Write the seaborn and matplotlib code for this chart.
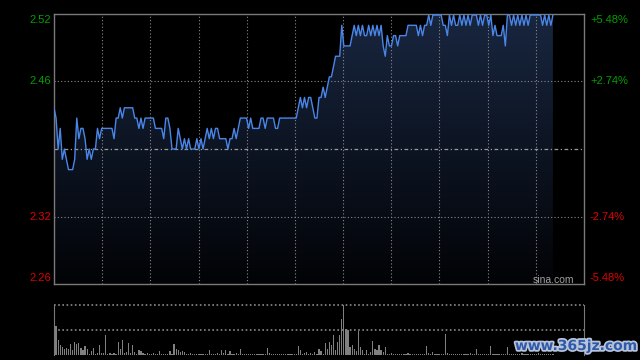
import numpy as np
import pandas as pd
import seaborn as sns
import matplotlib
matplotlib.use("Agg")
import matplotlib.pyplot as plt
from matplotlib.colors import LinearSegmentedColormap
import matplotlib.patheffects as pe

# precio por minuto (lectura del grafico)
precio = [
    2.43, 2.42, 2.39, 2.41, 2.38, 2.39, 2.38, 2.37, 2.37, 2.37,
    2.38, 2.42, 2.40, 2.41, 2.41, 2.40, 2.38, 2.39, 2.38, 2.39,
    2.39, 2.41, 2.40, 2.41, 2.41, 2.41, 2.41, 2.41, 2.41, 2.40,
    2.42, 2.42, 2.43, 2.42, 2.43, 2.43, 2.43, 2.43, 2.43, 2.42,
    2.42, 2.41, 2.42, 2.41, 2.42, 2.42, 2.42, 2.42, 2.42, 2.41,
    2.41, 2.41, 2.41, 2.40, 2.42, 2.42, 2.41, 2.39, 2.39, 2.39,
    2.41, 2.40, 2.39, 2.40, 2.39, 2.40, 2.39, 2.39, 2.39, 2.40,
    2.39, 2.40, 2.39, 2.40, 2.41, 2.40, 2.41, 2.40, 2.41, 2.41,
    2.40, 2.40, 2.40, 2.40, 2.39, 2.40, 2.40, 2.41, 2.40, 2.41,
    2.42, 2.42, 2.42, 2.42, 2.41, 2.42, 2.41, 2.41, 2.41, 2.41,
    2.42, 2.42, 2.41, 2.42, 2.42, 2.42, 2.42, 2.41, 2.41, 2.42,
    2.42, 2.42, 2.42, 2.42, 2.42, 2.42, 2.42, 2.42, 2.43, 2.44,
    2.43, 2.44, 2.43, 2.44, 2.44, 2.43, 2.42, 2.42, 2.44, 2.44,
    2.45, 2.44, 2.45, 2.46, 2.46, 2.47, 2.48, 2.48, 2.48, 2.51,
    2.49, 2.49, 2.49, 2.49, 2.50, 2.51, 2.50, 2.51, 2.50, 2.51,
    2.50, 2.50, 2.51, 2.50, 2.51, 2.50, 2.51, 2.50, 2.51, 2.49,
    2.48, 2.50, 2.49, 2.49, 2.50, 2.50, 2.49, 2.50, 2.50, 2.50,
    2.50, 2.51, 2.51, 2.51, 2.51, 2.51, 2.50, 2.51, 2.50, 2.51,
    2.51, 2.52, 2.51, 2.52, 2.52, 2.52, 2.52, 2.52, 2.51, 2.51,
    2.50, 2.52, 2.51, 2.52, 2.51, 2.51, 2.52, 2.51, 2.52, 2.51,
    2.52, 2.51, 2.52, 2.52, 2.52, 2.51, 2.52, 2.51, 2.52, 2.52,
    2.51, 2.52, 2.50, 2.51, 2.50, 2.50, 2.50, 2.51, 2.49, 2.52,
    2.52, 2.51, 2.52, 2.51, 2.52, 2.51, 2.52, 2.51, 2.52, 2.51,
    2.52, 2.52, 2.52, 2.52, 2.52, 2.52, 2.51, 2.52, 2.51, 2.52,
    2.51, 2.52,
]

# volumen relativo (max = 100)
volumen = [
    20, 58, 30, 21, 17, 13, 15, 13, 23, 10,
    27, 23, 25, 15, 10, 19, 13, 3, 8, 15,
    3, 5, 20, 5, 5, 40, 3, 5, 3, 5,
    3, 27, 13, 30, 5, 7, 25, 5, 21, 7,
    3, 10, 8, 5, 3, 5, 3, 2, 4, 2,
    3, 8, 3, 3, 3, 3, 8, 3, 23, 13,
    10, 7, 8, 7, 3, 2, 5, 3, 3, 3,
    2, 2, 2, 2, 2, 11, 3, 2, 2, 5,
    2, 10, 5, 10, 3, 9, 2, 3, 5, 3,
    13, 2, 2, 2, 2, 3, 2, 2, 3, 2,
    2, 2, 2, 15, 5, 2, 3, 2, 3, 2,
    2, 3, 2, 3, 2, 2, 3, 2, 18, 10,
    3, 5, 7, 3, 5, 3, 7, 3, 13, 8,
    3, 25, 13, 27, 20, 41, 10, 27, 40, 73,
    100, 53, 50, 17, 20, 13, 8, 48, 17, 10,
    3, 10, 3, 7, 28, 13, 10, 20, 10, 7,
    16, 3, 2, 5, 2, 3, 2, 2, 3, 2,
    2, 5, 2, 3, 2, 2, 3, 2, 2, 3,
    18, 5, 3, 7, 3, 3, 2, 3, 2, 42,
    5, 2, 3, 2, 2, 2, 2, 2, 2, 2,
    2, 5, 2, 2, 13, 2, 3, 2, 2, 2,
    2, 18, 2, 3, 2, 2, 2, 2, 2, 16,
    3, 2, 2, 3, 2, 2, 5, 2, 3, 2,
    2, 3, 2, 2, 4, 2, 2, 3, 2, 2,
    3, 2,
]

cierre_anterior = 2.39
pct_max = 0.0548
etiquetas_izq = ["2.52", "2.46", "2.32", "2.26"]
etiquetas_der = ["+5.48%", "+2.74%", "-2.74%", "-5.48%"]
niveles_pct = [pct_max, pct_max / 2, -pct_max / 2, -pct_max]
total_min = 256

df = pd.DataFrame({"minuto": np.arange(len(precio)), "precio": precio})
dv = pd.DataFrame({"minuto": np.arange(len(volumen)), "volumen": volumen})

sns.set_style("dark")
plt.rcParams["font.family"] = ["Liberation Sans", "DejaVu Sans"]

fig = plt.figure(figsize=(6.4, 3.6), dpi=100, facecolor="black")
ax = fig.add_axes([54 / 640, 1 - 284 / 360, 530 / 640, 270 / 360])
axv = fig.add_axes([54 / 640, 1 - 355 / 360, 530 / 640, 50 / 360])

ylo = cierre_anterior * (1 - pct_max)
yhi = cierre_anterior * (1 + pct_max)

# relleno con degradado bajo la linea
poly = ax.fill_between(df["minuto"], df["precio"], ylo, color="none", lw=0)
cmap = LinearSegmentedColormap.from_list("fondo", ["#020306", "#18263f"])
grad = np.linspace(0, 1, 256).reshape(-1, 1)
img = ax.imshow(grad, extent=[0, df["minuto"].iloc[-1], ylo, yhi], origin="lower",
                aspect="auto", cmap=cmap, zorder=1)
img.set_clip_path(poly.get_paths()[0], transform=ax.transData)

sns.lineplot(data=df, x="minuto", y="precio", ax=ax, color="#4a86e8", lw=1.0,
             estimator=None, zorder=3)

ax.set_facecolor("black")
ax.set_xlim(0, total_min)
ax.set_ylim(ylo, yhi)
ax.set_xticks([])
ax.set_yticks([])
ax.set_xlabel("")
ax.set_ylabel("")
for s in ax.spines.values():
    s.set_visible(True)
    s.set_color("#7a7a7a")
    s.set_linewidth(1)

for k in range(1, 11):
    ax.axvline(total_min * k / 11, color="#8a8a8a", lw=0.8, ls=(0, (1, 2)), zorder=2)
for p in [pct_max / 2, -pct_max / 2]:
    ax.axhline(cierre_anterior * (1 + p), color="#8a8a8a", lw=0.8, ls=(0, (1, 2)), zorder=2)
ax.axhline(cierre_anterior, color="#9a9a9a", lw=0.9, ls=(0, (3, 2, 1, 2)), zorder=2)

for i, (lab_l, lab_r, p) in enumerate(zip(etiquetas_izq, etiquetas_der, niveles_pct)):
    col = "#00a000" if p > 0 else "#e00000"
    dy = -6 if i == 0 else (6 if i == 3 else 0)
    yv = cierre_anterior * (1 + p)
    ax.annotate(lab_l, xy=(0, yv), xycoords=("axes fraction", "data"),
                xytext=(-3, dy), textcoords="offset pixels", ha="right", va="center",
                color=col, fontsize=8)
    ax.annotate(lab_r, xy=(1, yv), xycoords=("axes fraction", "data"),
                xytext=(6, dy), textcoords="offset pixels", ha="left", va="center",
                color=col, fontsize=8)

fig.text(553 / 640, 1 - 283 / 360, "sina.com", color="#a0a0a0", fontsize=7.5,
         ha="center", va="baseline")

# volumen
sns.barplot(data=dv, x="minuto", y="volumen", ax=axv, native_scale=True, color="#808080",
            width=0.6, errorbar=None, linewidth=0, saturation=1)
axv.set_facecolor("black")
axv.set_xlim(0, total_min)
axv.set_ylim(0, 100)
axv.set_xticks([])
axv.set_yticks([])
axv.set_xlabel("")
axv.set_ylabel("")
for nombre, s in axv.spines.items():
    s.set_color("#7a7a7a")
    s.set_visible(nombre in ("left", "right"))
for yv in [50, 100]:
    axv.axhline(yv, color="#8a8a8a", lw=1.2, ls=(0, (1, 1.5)), zorder=0, clip_on=False)

fig.text(576 / 640, 1 - 346 / 360, "www.365jz.com", family="DejaVu Sans", weight="bold",
         fontsize=10, color="#2f5aa8", ha="center", va="center",
         path_effects=[pe.withStroke(linewidth=2.5, foreground="#b8c4dc")])

fig.savefig("out.png", dpi=100, facecolor="black")
